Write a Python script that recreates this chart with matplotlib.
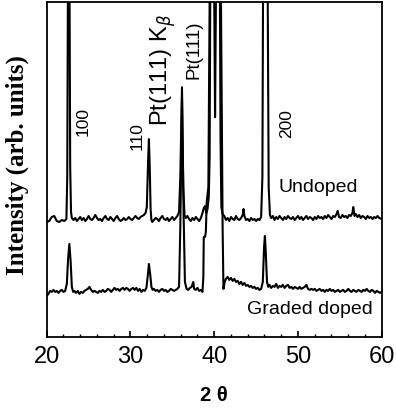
import matplotlib.pyplot as plt

# Undoped film (upper trace)
undoped_2theta = [20.0, 20.3, 20.6, 20.9, 21.2, 21.5, 21.8, 22.1, 22.35, 22.45, 22.55, 22.7, 22.8, 22.9,
                  23.0, 23.2, 23.4, 23.6, 23.8, 24.0, 24.2, 24.4, 24.6, 24.8, 25.0, 25.2, 25.4, 25.6, 25.8,
                  26.0, 26.2, 26.4, 26.6, 26.8, 27.0, 27.2, 27.4, 27.6, 27.8, 28.0, 28.2, 28.4, 28.6, 28.8,
                  29.0, 29.2, 29.4, 29.6, 29.8, 30.0, 30.2, 30.4, 30.6, 30.8, 31.0, 31.2, 31.4, 31.6, 31.8,
                  31.95, 32.1, 32.2, 32.3, 32.4, 32.5, 32.6, 32.8, 33.0, 33.2, 33.4, 33.6, 33.8, 34.0, 34.2,
                  34.4, 34.6, 34.8, 35.0, 35.2, 35.4, 35.6, 35.8, 35.95, 36.15, 36.3, 36.45, 36.6, 36.8,
                  37.0, 37.2, 37.4, 37.6, 37.8, 38.0, 38.2, 38.4, 38.6, 38.75, 38.9, 39.05, 39.2, 39.35,
                  39.45, 39.55, 39.95, 40.1, 40.25, 40.65, 40.75, 40.85, 41.0, 41.2, 41.4, 41.6, 41.8,
                  42.0, 42.2, 42.4, 42.6, 42.8, 43.0, 43.2, 43.4, 43.5, 43.6, 43.8, 44.0, 44.2, 44.4, 44.6,
                  44.8, 45.0, 45.2, 45.4, 45.6, 45.75, 45.85, 46.35, 46.5, 46.65, 46.8, 47.0, 47.2, 47.4,
                  47.6, 47.8, 48.0, 48.2, 48.4, 48.6, 48.8, 49.0, 49.2, 49.4, 49.6, 49.8, 50.0, 50.2, 50.4,
                  50.6, 50.8, 51.0, 51.2, 51.4, 51.6, 51.8, 52.0, 52.2, 52.4, 52.6, 52.8, 53.0, 53.2, 53.4,
                  53.6, 53.8, 54.0, 54.2, 54.4, 54.6, 54.75, 54.9, 55.1, 55.3, 55.5, 55.7, 55.9, 56.1, 56.3,
                  56.5, 56.6, 56.75, 56.9, 57.1, 57.3, 57.5, 57.7, 57.9, 58.1, 58.3, 58.5, 58.7, 58.9, 59.1,
                  59.3, 59.5, 59.7, 60.0]
undoped_counts = [115, 116, 120, 121, 116, 115, 117, 116, 118, 160, 400, 400, 170, 125,
                  119, 117, 119, 116, 118, 120, 117, 119, 116, 118, 121, 118, 117, 119, 122,
                  119, 117, 118, 116, 119, 121, 118, 117, 120, 118, 116, 119, 121, 118, 116,
                  117, 119, 117, 118, 120, 118, 117, 119, 121, 119, 118, 120, 121, 122, 124,
                  130, 175, 198, 170, 128, 117, 115, 117, 119, 118, 116, 119, 121, 118, 117,
                  119, 116, 118, 120, 117, 119, 121, 125, 160, 250, 150, 122, 119, 121,
                  118, 116, 119, 117, 120, 118, 116, 119, 124, 129, 131, 124, 128, 140,
                  180, 400, 400, 220, 400, 400, 200, 130, 123, 121, 117, 119, 116,
                  120, 118, 117, 121, 118, 117, 119, 122, 128, 121, 117, 118, 116, 119, 117,
                  118, 116, 118, 117, 120, 160, 400, 400, 150, 122, 119, 121, 117, 120,
                  118, 121, 119, 117, 120, 118, 121, 119, 118, 120, 117, 119, 121, 118, 120,
                  117, 119, 121, 118, 120, 119, 117, 120, 118, 121, 119, 120, 118, 121, 119,
                  122, 120, 118, 121, 120, 123, 126, 120, 119, 122, 120, 121, 119, 122, 121,
                  124, 130, 121, 123, 120, 122, 119, 121, 120, 118, 121, 119, 120, 118, 120,
                  119, 121, 119, 118]

# Graded doped film (lower trace)
graded_2theta = [20.0, 20.2, 20.4, 20.6, 20.8, 21.0, 21.2, 21.4, 21.6, 21.8, 22.0, 22.2, 22.4, 22.55,
                 22.7, 22.85, 23.0, 23.15, 23.3, 23.5, 23.7, 23.9, 24.1, 24.3, 24.5, 24.7, 24.9, 25.1,
                 25.3, 25.5, 25.7, 25.9, 26.1, 26.3, 26.5, 26.7, 26.9, 27.1, 27.3, 27.5, 27.7, 27.9,
                 28.1, 28.3, 28.5, 28.7, 28.9, 29.1, 29.3, 29.5, 29.7, 29.9, 30.1, 30.3, 30.5, 30.7,
                 30.9, 31.1, 31.3, 31.5, 31.7, 31.9, 32.05, 32.2, 32.35, 32.5, 32.65, 32.8, 33.0, 33.2,
                 33.4, 33.6, 33.8, 34.0, 34.2, 34.4, 34.6, 34.8, 35.0, 35.2, 35.4, 35.6, 35.8, 35.95,
                 36.15, 36.35, 36.5, 36.7, 36.9, 37.1, 37.3, 37.5, 37.6, 37.8, 38.0, 38.2, 38.4, 38.6,
                 38.7, 38.75, 38.9, 39.0, 39.1, 39.3, 39.5, 40.75, 41.0, 41.1, 41.25, 41.4, 41.6, 41.8,
                 42.0, 42.2, 42.4, 42.6, 42.8, 43.0, 43.2, 43.4, 43.6, 43.8, 44.0, 44.2, 44.4, 44.6,
                 44.8, 45.0, 45.2, 45.4, 45.6, 45.8, 45.95, 46.05, 46.15, 46.3, 46.45, 46.6, 46.8, 47.0,
                 47.2, 47.4, 47.6, 47.8, 48.0, 48.2, 48.4, 48.6, 48.8, 49.0, 49.2, 49.4, 49.6, 49.8,
                 50.0, 50.2, 50.4, 50.6, 50.8, 51.0, 51.2, 51.4, 51.6, 51.8, 52.0, 52.2, 52.4, 52.6,
                 52.8, 53.0, 53.2, 53.4, 53.6, 53.8, 54.0, 54.2, 54.4, 54.6, 54.8, 55.0, 55.2, 55.4,
                 55.6, 55.8, 56.0, 56.2, 56.4, 56.6, 56.8, 57.0, 57.2, 57.4, 57.6, 57.8, 58.0, 58.2,
                 58.4, 58.6, 58.8, 59.0, 59.2, 59.4, 59.6, 59.8, 60.0]
graded_counts = [41, 43, 46, 45, 47, 45, 46, 44, 46, 47, 45, 46, 53, 78,
                 93, 76, 50, 45, 46, 44, 46, 43, 45, 44, 46, 47, 48, 50,
                 47, 45, 46, 45, 44, 46, 45, 47, 45, 46, 48, 47, 45, 47,
                 49, 47, 48, 46, 48, 49, 47, 49, 48, 46, 48, 49, 47, 49,
                 46, 48, 45, 47, 46, 49, 60, 73, 63, 50, 47, 48, 46, 47,
                 45, 47, 48, 46, 47, 45, 46, 48, 47, 46, 47, 48, 50, 110,
                 240, 120, 55, 48, 47, 49, 50, 55, 48, 47, 49, 46, 47, 45,
                 60, 100, 100, 105, 135, 150, 400, 400, 110, 48, 55, 58, 60, 57,
                 59, 56, 58, 55, 56, 53, 55, 52, 54, 51, 52, 50, 51, 49,
                 50, 48, 49, 47, 48, 55, 90, 101, 85, 55, 50, 52, 49, 51,
                 50, 53, 49, 51, 50, 52, 49, 51, 52, 49, 50, 48, 50, 49,
                 48, 50, 48, 49, 50, 52, 48, 47, 48, 47, 48, 46, 47, 48,
                 46, 47, 45, 47, 46, 48, 46, 47, 45, 46, 47, 45, 46, 47,
                 45, 46, 48, 46, 45, 47, 46, 45, 47, 46, 45, 47, 46, 48,
                 46, 45, 47, 46, 44, 46, 45, 44, 45]

fig = plt.figure(figsize=(3.96, 4.14), dpi=100)
ax = fig.add_axes([0.118, 0.184, 0.846, 0.808])

ax.plot(undoped_2theta, undoped_counts, color='black', lw=1.5)
ax.plot(graded_2theta, graded_counts, color='black', lw=1.5)

ax.set_xlim(20, 60)
ax.set_ylim(0, 335)
ax.set_xticks([20, 30, 40, 50, 60])
ax.set_xticks(range(20, 61, 2), minor=True)
ax.set_yticks([])
ax.tick_params(axis='x', which='major', direction='in', length=4, width=1.2, pad=6,
               labelsize=17, labelfontfamily='Liberation Sans')
ax.tick_params(axis='x', which='minor', direction='in', length=2, width=1.0)
for sp in ax.spines.values():
    sp.set_linewidth(1.3)

ax.set_xlabel('2 θ', fontsize=14.5, fontweight='bold', family='Liberation Sans')
ax.xaxis.set_label_coords(0.5, -0.145)
ax.set_ylabel('Intensity (arb. units)', fontsize=18, fontweight='bold',
              family='Liberation Serif')
ax.yaxis.set_label_coords(-0.053, 0.516)

# peak labels
lab = dict(rotation=90, ha='center', va='center', family='Liberation Sans')
ax.text(24.3, 217, '100', fontsize=12.5, **lab)
ax.text(30.8, 202, '110', fontsize=12.5, **lab)
ax.text(33.9, 268, r'Pt(111) K$_\beta$', fontsize=17, **lab)
ax.text(37.6, 288, 'Pt(111)', fontsize=13.5, **lab)
ax.text(48.6, 215, '200', fontsize=12.5, **lab)

ax.text(52.4, 151, 'Undoped', fontsize=14, ha='center', va='center', family='Liberation Sans')
ax.text(51.4, 28, 'Graded doped', fontsize=14, ha='center', va='center', family='Liberation Sans')

plt.savefig('out.png', dpi=100)
